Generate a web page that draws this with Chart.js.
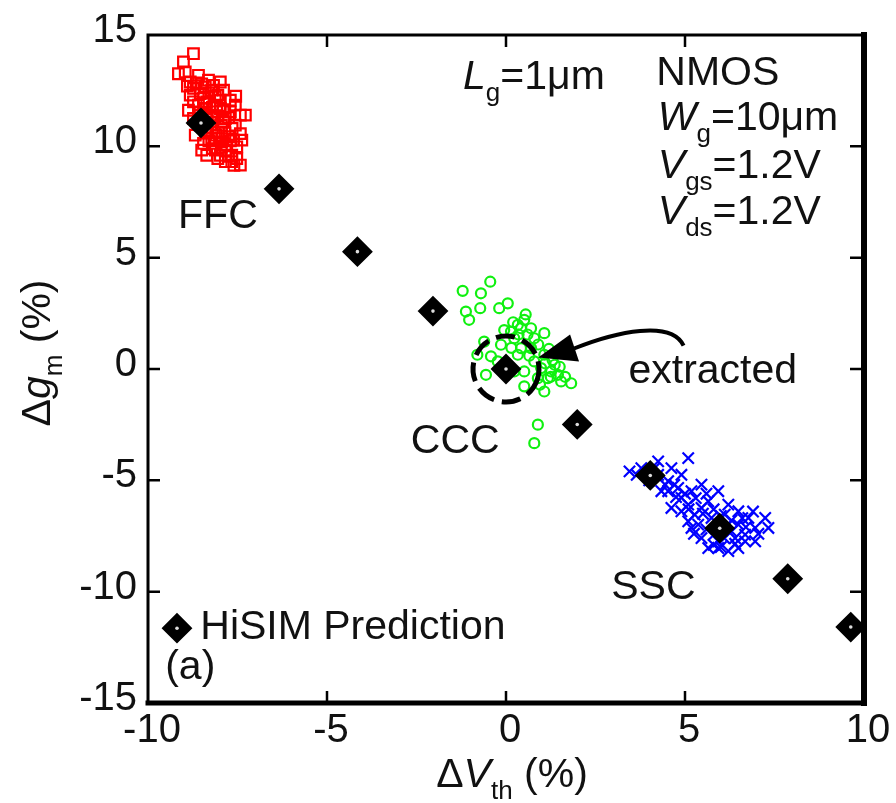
<!DOCTYPE html>
<html><head><meta charset="utf-8">
<script src="https://cdn.jsdelivr.net/npm/chart.js@4.4.1/dist/chart.umd.min.js"></script>
<style>html,body{margin:0;padding:0;background:#fff}#wrap{width:896px;height:803px}</style>
</head><body><div id="wrap"><canvas id="c" width="896" height="803"></canvas></div>
<script>
// ---- data ----
const xTicks = [-10, -5, 0, 5, 10];
const yTicks = [-15, -10, -5, 0, 5, 10, 15];

const hisimX = [-8.52, -6.34, -4.15, -2.04, 0.0, 1.99, 4.03, 5.97, 7.87, 9.63];
const hisimY = [11.05, 8.09, 5.27, 2.60, 0.0, -2.49, -4.78, -7.15, -9.42, -11.59];

const ffcX = [-8.73,-9.01,-9.15,-8.96,-8.82,-8.59,-8.31,-7.98,-7.89,-8.22,-8.54,-8.73,-8.36,-7.98,-7.70,-7.56,-7.42,-7.28,-7.70,-8.08,-8.40,-8.73,-8.26,-7.89,-7.56,-7.42,-8.68,-8.36,-8.03,-7.75,-8.45,-8.12,-7.80,-7.52,-8.36,-7.98,-7.66,-7.42,-7.66,-8.54,-8.59,-8.22,-7.84,-8.08,-8.45,-8.12,-8.73,-8.17,-7.94,-8.22,-7.61,-8.50,-7.84,-8.12,-7.52,-7.84,-7.98,-8.40,-8.82,-8.87,-8.59,-7.38,
  -8.50,-8.30,-8.05,-8.45,-8.20,-7.90,-8.55,-8.35,-8.05,-7.75,-8.50,-8.20,-7.95,-7.65,-8.40,-8.10,-7.85,-8.30,-7.95,-7.70,-8.20,-7.95,-7.75,-8.05,-7.60,-8.65,-8.90,-7.55];
const ffcY = [14.16,13.79,13.26,13.34,12.89,13.19,12.97,12.89,12.52,12.52,12.37,12.00,12.00,12.07,12.07,11.85,11.40,11.40,11.55,11.55,11.70,11.25,11.10,11.10,10.95,10.57,10.50,10.65,10.65,10.43,10.13,10.13,10.05,9.98,9.60,9.60,9.60,9.16,9.31,10.95,11.40,11.40,11.25,11.85,12.15,12.22,12.60,12.74,10.35,10.35,10.28,9.83,9.83,9.83,9.45,9.31,11.70,12.67,12.30,11.62,11.85,10.28,
  12.80,12.40,12.30,11.95,11.75,11.65,11.55,11.30,11.35,11.30,11.05,10.85,10.95,10.80,10.60,10.50,10.60,10.25,10.20,10.25,9.90,9.95,9.55,9.45,9.15,12.85,12.70,12.25];

const cccX = [-0.44,-1.21,-0.70,-1.12,-1.03,-0.72,-0.19,0.05,0.14,0.33,0.51,0.42,0.79,1.07,-0.61,-0.80,-0.42,-0.23,-0.56,0.33,0.42,0.51,0.51,1.07,1.45,1.82,1.26,0.98,1.17,1.36,1.54,0.89,0.79,0.70,0.23,0.89,0.79,-0.14,0.70,0.23,1.07,
  0.60,0.90,1.20,1.30,1.10,0.65,1.50,1.25,0.95,0.35,0.15,1.65,0.20,-0.05,0.55];
const cccY = [3.92,3.51,3.40,2.58,2.21,2.73,2.73,2.95,1.68,1.98,2.21,1.83,1.38,1.61,1.23,0.64,0.57,0.34,-0.26,0.64,0.94,-0.11,-0.78,-1.01,-0.26,-0.64,-0.11,0.04,-0.41,0.19,-0.56,-0.41,0.34,0.94,-0.11,-2.50,-3.33,1.09,1.83,1.38,0.64,
  1.55,1.10,0.90,0.40,0.25,0.60,0.10,-0.35,-0.70,1.55,0.95,-0.35,2.10,1.75,2.45];

const sscX = [5.09,3.45,4.25,4.62,4.90,4.53,4.81,5.18,5.46,5.93,4.62,5.09,5.46,5.65,6.21,6.49,6.77,7.24,7.33,6.96,6.68,6.96,6.49,6.21,5.65,5.18,5.09,5.37,5.74,6.02,6.30,6.49,5.93,5.46,4.25,4.34,4.15,4.90,5.27,6.11,4.90,6.68,6.40,5.93,3.78,4.53,
  4.70,5.00,5.30,4.75,5.10,5.50,5.80,6.00,6.30,5.60,5.80,6.10,6.40,6.70,6.20,6.60,7.05,5.25,6.00,4.45,4.00,3.65,5.60,6.90,5.80];
const sscY = [-4.00,-4.60,-4.15,-4.45,-4.75,-5.04,-5.34,-5.49,-5.19,-5.49,-6.24,-6.09,-6.24,-5.94,-6.09,-6.39,-6.69,-6.69,-7.14,-7.14,-7.44,-7.74,-8.04,-8.18,-8.04,-7.14,-6.84,-6.99,-6.69,-7.14,-7.29,-6.99,-7.74,-7.59,-4.75,-5.49,-4.45,-5.79,-6.54,-6.54,-6.39,-7.74,-7.59,-8.04,-4.45,-5.49,
  -5.20,-5.60,-5.80,-5.75,-6.30,-6.50,-6.30,-6.60,-6.80,-7.20,-7.45,-7.60,-7.85,-7.10,-7.00,-6.70,-7.40,-7.40,-8.00,-5.20,-5.00,-4.75,-5.60,-6.40,-7.90];

const pts = (xs, ys) => xs.map((x, i) => ({x: x, y: ys[i]}));

const FONT = '"Liberation Sans", Arial, sans-serif';
const BIG = 41, SUB = 26, SUBDY = 12;

function richWidth(ctx, parts) {
  let w = 0;
  for (const p of parts) {
    ctx.font = (p.i ? 'italic ' : '') + (p.s ? SUB : BIG) + 'px ' + FONT;
    w += ctx.measureText(p.t).width;
  }
  return w;
}
function drawRich(ctx, x, y, parts) {
  let cx = x;
  for (const p of parts) {
    ctx.font = (p.i ? 'italic ' : '') + (p.s ? SUB : BIG) + 'px ' + FONT;
    ctx.fillText(p.t, cx, y + (p.s ? SUBDY : 0));
    cx += ctx.measureText(p.t).width;
  }
}

const labels = [
  {x: -1.20, y: 12.58, parts: [{t:'L', i:1}, {t:'g', s:1}, {t:'=1\u03bcm'}]},
  {x: 4.20, y: 12.76, parts: [{t:'NMOS'}]},
  {x: 4.24, y: 10.74, parts: [{t:'W', i:1}, {t:'g', s:1}, {t:'=10\u03bcm'}]},
  {x: 4.24, y: 8.59, parts: [{t:'V', i:1}, {t:'gs', s:1}, {t:'=1.2V'}]},
  {x: 4.24, y: 6.52, parts: [{t:'V', i:1}, {t:'ds', s:1}, {t:'=1.2V'}]},
  {x: -9.16, y: 6.35, parts: [{t:'FFC'}]},
  {x: -2.66, y: -3.79, parts: [{t:'CCC'}]},
  {x: 2.94, y: -10.34, parts: [{t:'SSC'}]},
  {x: 3.42, y: -0.65, parts: [{t:'extracted'}]},
  {x: -9.52, y: -13.92, parts: [{t:'(a)'}]},
  {x: -8.54, y: -12.13, parts: [{t:'HiSIM Prediction'}]}
];
const legendMarker = {x: -9.19, y: -11.64};
const arrowTip = {x: 0.90, y: 0.52}, arrowC1 = {x: 1.79, y: 1.55}, arrowC2 = {x: 2.04, y: 0.34};
const arrowCurve = [{x:1.90,y:0.92},{x:3.08,y:1.68},{x:4.62,y:2.22},{x:4.96,y:1.05}];

function diamond(ctx, x, y, r) {
  ctx.beginPath();
  ctx.moveTo(x - r, y); ctx.lineTo(x, y - r); ctx.lineTo(x + r, y); ctx.lineTo(x, y + r);
  ctx.closePath();
}

const overlay = {
  id: 'overlay',
  afterDatasetsDraw(chart) {
    const ctx = chart.ctx, xs = chart.scales.x, ys = chart.scales.y, a = chart.chartArea;
    const X = v => xs.getPixelForValue(v), Y = v => ys.getPixelForValue(v);
    ctx.save();
    ctx.strokeStyle = '#000';
    // ticks (inward, all 4 sides)
    ctx.lineWidth = 2.5;
    for (const v of xTicks.slice(1, -1)) {
      ctx.beginPath();
      ctx.moveTo(X(v), a.bottom); ctx.lineTo(X(v), a.bottom - 12);
      ctx.moveTo(X(v), a.top); ctx.lineTo(X(v), a.top + 12);
      ctx.stroke();
    }
    for (const v of yTicks.slice(1, -1)) {
      ctx.beginPath();
      ctx.moveTo(a.left, Y(v)); ctx.lineTo(a.left + 12, Y(v));
      ctx.moveTo(a.right + 3, Y(v)); ctx.lineTo(a.right - 14, Y(v));
      ctx.stroke();
    }
    // frame
    ctx.lineCap = 'square';
    ctx.lineWidth = 3;
    ctx.beginPath(); ctx.moveTo(a.left, a.bottom); ctx.lineTo(a.left, a.top); ctx.lineTo(a.right, a.top); ctx.stroke();
    ctx.lineWidth = 6;
    ctx.beginPath(); ctx.moveTo(a.right, a.top); ctx.lineTo(a.right, a.bottom); ctx.stroke();
    ctx.lineWidth = 5;
    ctx.beginPath(); ctx.moveTo(a.left, a.bottom); ctx.lineTo(a.right, a.bottom); ctx.stroke();
    ctx.lineCap = 'butt';

    // dashed circle around extracted point
    ctx.lineWidth = 5;
    ctx.setLineDash([19, 8]);
    ctx.beginPath(); ctx.arc(X(hisimX[4]), Y(hisimY[4]), 33, 0.3, 0.3 + Math.PI * 2); ctx.stroke();
    ctx.setLineDash([]);

    // arrow
    ctx.lineWidth = 4;
    ctx.beginPath();
    ctx.moveTo(X(arrowCurve[0].x), Y(arrowCurve[0].y));
    ctx.bezierCurveTo(X(arrowCurve[1].x), Y(arrowCurve[1].y), X(arrowCurve[2].x), Y(arrowCurve[2].y), X(arrowCurve[3].x), Y(arrowCurve[3].y));
    ctx.stroke();
    ctx.fillStyle = '#000';
    ctx.beginPath();
    ctx.moveTo(X(arrowTip.x), Y(arrowTip.y)); ctx.lineTo(X(arrowC1.x), Y(arrowC1.y)); ctx.lineTo(X(arrowC2.x), Y(arrowC2.y));
    ctx.closePath(); ctx.fill();

    // legend marker
    diamond(ctx, X(legendMarker.x), Y(legendMarker.y), 14);
    ctx.fill();
    ctx.lineWidth = 2; ctx.stroke();
    ctx.fillStyle = '#ddd';
    ctx.beginPath(); ctx.arc(X(legendMarker.x), Y(legendMarker.y), 1.8, 0, Math.PI * 2); ctx.fill();

    // texts
    ctx.fillStyle = '#111';
    ctx.textBaseline = 'alphabetic';
    ctx.textAlign = 'left';
    for (const l of labels) drawRich(ctx, X(l.x), Y(l.y), l.parts);

    // axis titles
    const xt = [{t:'\u0394'}, {t:'V', i:1}, {t:'th', s:1}, {t:' (%)'}];
    const wx = richWidth(ctx, xt);
    drawRich(ctx, (a.left + a.right) / 2 + 6 - wx / 2, 787, xt);
    const yt = [{t:'\u0394'}, {t:'g', i:1}, {t:'m', s:1}, {t:' (%)'}];
    const wy = richWidth(ctx, yt);
    ctx.translate(50, (a.top + a.bottom) / 2 - 16);
    ctx.rotate(-Math.PI / 2);
    drawRich(ctx, -wy / 2, 0, yt);
    ctx.restore();
  }
};

new Chart(document.getElementById('c'), {
  type: 'scatter',
  data: {
    datasets: [
      {label: 'center', data: pts(hisimX, hisimY), pointStyle: 'circle', pointRadius: 1.8,
       pointBackgroundColor: '#ddd', pointBorderWidth: 0, order: 0},
      {label: 'HiSIM Prediction', data: pts(hisimX, hisimY), pointStyle: 'rectRot', pointRadius: 14,
       pointBackgroundColor: '#000', pointBorderColor: '#000', pointBorderWidth: 2, order: 1},
      {label: 'CCC', data: pts(cccX, cccY), pointStyle: 'circle', pointRadius: 5,
       pointBackgroundColor: 'rgba(0,0,0,0)', pointBorderColor: '#10f010', pointBorderWidth: 2.2, order: 2},
      {label: 'SSC', data: pts(sscX, sscY), pointStyle: 'crossRot', pointRadius: 8,
       pointBorderColor: '#0000ff', pointBorderWidth: 2.2, order: 3},
      {label: 'FFC', data: pts(ffcX, ffcY), pointStyle: 'rect', pointRadius: 7.5,
       pointBackgroundColor: 'rgba(0,0,0,0)', pointBorderColor: '#ff0000', pointBorderWidth: 2.2, order: 4}
    ]
  },
  options: {
    responsive: false, animation: false, devicePixelRatio: 1,
    layout: {padding: {top: 32, right: 32, left: 0, bottom: 0}},
    plugins: {legend: {display: false}, tooltip: {enabled: false}},
    scales: {
      x: {
        type: 'linear', min: -10, max: 10,
        afterBuildTicks: s => { s.ticks = xTicks.map(v => ({value: v})); },
        afterFit: s => { s.height = 100; },
        grid: {display: false, drawTicks: false}, border: {display: false},
        ticks: {color: '#111', font: {family: FONT, size: 40}, padding: 4, labelOffset: 4, maxRotation: 0, autoSkip: false,
                callback: v => String(v)}
      },
      y: {
        type: 'linear', min: -15, max: 15,
        afterBuildTicks: s => { s.ticks = yTicks.map(v => ({value: v})); },
        afterFit: s => { s.width = 148; },
        grid: {display: false, drawTicks: false}, border: {display: false},
        ticks: {color: '#111', font: {family: FONT, size: 40}, padding: 11, labelOffset: -4, autoSkip: false,
                callback: v => String(v)}
      }
    }
  },
  plugins: [overlay]
});
</script>
</body></html>
